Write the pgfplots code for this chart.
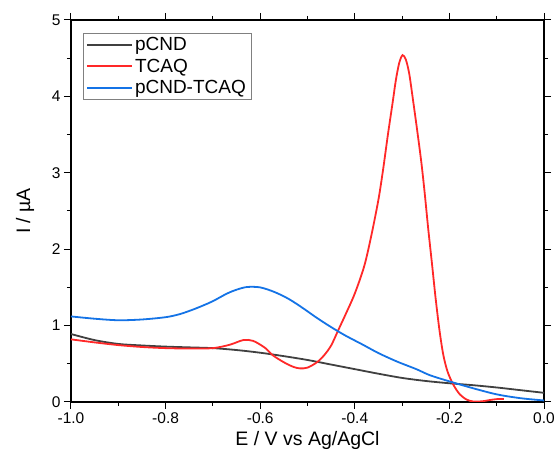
\documentclass[border=0pt]{standalone}
\usepackage{pgfplots}
\pgfplotsset{compat=1.18}
\usepackage{fontspec}
\setmainfont{Liberation Sans}
\definecolor{cgray}{RGB}{64,64,64}
\definecolor{cred}{RGB}{255,40,40}
\definecolor{cblue}{RGB}{20,115,230}
\begin{document}
\begin{tikzpicture}
\begin{axis}[
  name=ax,
  scale only axis,
  width=473pt, height=382pt,
  xmin=-1, xmax=0, ymin=0, ymax=5,
  xtick={-1,-0.8,-0.6,-0.4,-0.2,0},
  xticklabels={-1.0,-0.8,-0.6,-0.4,-0.2,0.0},
  ytick={0,1,2,3,4,5},
  minor x tick num=1, minor y tick num=1,
  tick align=outside,
  major tick length=7pt, minor tick length=4pt,
  every tick/.style={black, line width=1pt},
  axis line style={line width=1.2pt},
  tick label style={font=\fontsize{15.5}{18}\selectfont},
  /pgf/number format/assume math mode=true,
  xlabel={E / V vs Ag/AgCl},
  ylabel={I / \textmu A},
  label style={font=\fontsize{19.5}{22}\selectfont},
  xlabel style={at={(axis description cs:0.5,-0.1)}, anchor=center},
  ylabel style={at={(axis description cs:-0.097,0.5)}, anchor=center},
  legend style={at={(0.025,0.966)}, anchor=north west, draw=gray,
    font=\fontsize{19}{22}\selectfont, row sep=3pt, inner xsep=3pt, inner ysep=2pt},
  legend cell align=left,
  legend image code/.code={\draw[#1] (0pt,0pt) -- (45pt,0pt);},
  legend image post style={line width=2pt},
]
\addplot[cgray, line width=1.8pt, smooth] coordinates {
(-1.0,0.89) (-0.95,0.81) (-0.9,0.76) (-0.85,0.74) (-0.8,0.725) (-0.75,0.715) (-0.7,0.705)
(-0.65,0.68) (-0.6,0.645) (-0.55,0.60) (-0.5,0.55) (-0.45,0.49) (-0.4,0.43)
(-0.35,0.37) (-0.3,0.315) (-0.25,0.275) (-0.2,0.245) (-0.15,0.22) (-0.1,0.19) (-0.05,0.155) (0.0,0.12)};
\addlegendentry{pCND}
\addplot[cred, line width=1.8pt, smooth] coordinates {
(-1.0,0.82) (-0.95,0.78) (-0.9,0.745) (-0.85,0.72) (-0.8,0.705) (-0.75,0.70) (-0.7,0.705)
(-0.664,0.75) (-0.636,0.81) (-0.615,0.80) (-0.59,0.71) (-0.573,0.61) (-0.55,0.52)
(-0.53,0.46) (-0.516,0.44) (-0.5,0.45) (-0.48,0.52) (-0.465,0.61) (-0.45,0.74) (-0.435,0.94)
(-0.42,1.14) (-0.40,1.42) (-0.38,1.78) (-0.365,2.18) (-0.35,2.65) (-0.34,3.05)
(-0.33,3.5) (-0.32,3.92) (-0.313,4.22) (-0.306,4.44) (-0.299,4.54) (-0.292,4.48)
(-0.285,4.30) (-0.278,4.0) (-0.268,3.55) (-0.259,3.12) (-0.252,2.72) (-0.245,2.28)
(-0.237,1.82) (-0.229,1.35) (-0.221,0.94) (-0.213,0.62) (-0.204,0.40) (-0.192,0.23)
(-0.178,0.10) (-0.163,0.03) (-0.148,0.005) (-0.13,0.01) (-0.11,0.03) (-0.095,0.04) (-0.085,0.04)};
\addlegendentry{TCAQ}
\addplot[cblue, line width=1.8pt, smooth] coordinates {
(-1.0,1.12) (-0.95,1.09) (-0.9,1.07) (-0.85,1.08) (-0.8,1.11) (-0.77,1.15)
(-0.742,1.21) (-0.72,1.265) (-0.7,1.32) (-0.67,1.42) (-0.65,1.47) (-0.628,1.505) (-0.6,1.50)
(-0.57,1.44) (-0.54,1.35) (-0.51,1.23) (-0.48,1.10) (-0.45,0.98) (-0.42,0.87)
(-0.383,0.75) (-0.35,0.64) (-0.311,0.53) (-0.27,0.43) (-0.241,0.35) (-0.2,0.27)
(-0.15,0.18) (-0.1,0.10) (-0.05,0.05) (0.0,0.02)};
\addlegendentry{pCND-TCAQ}
\end{axis}
\pgfresetboundingbox
\path ([xshift=-71pt,yshift=-60pt]ax.south west) rectangle ([xshift=13pt,yshift=20pt]ax.north east);
\end{tikzpicture}
\end{document}
